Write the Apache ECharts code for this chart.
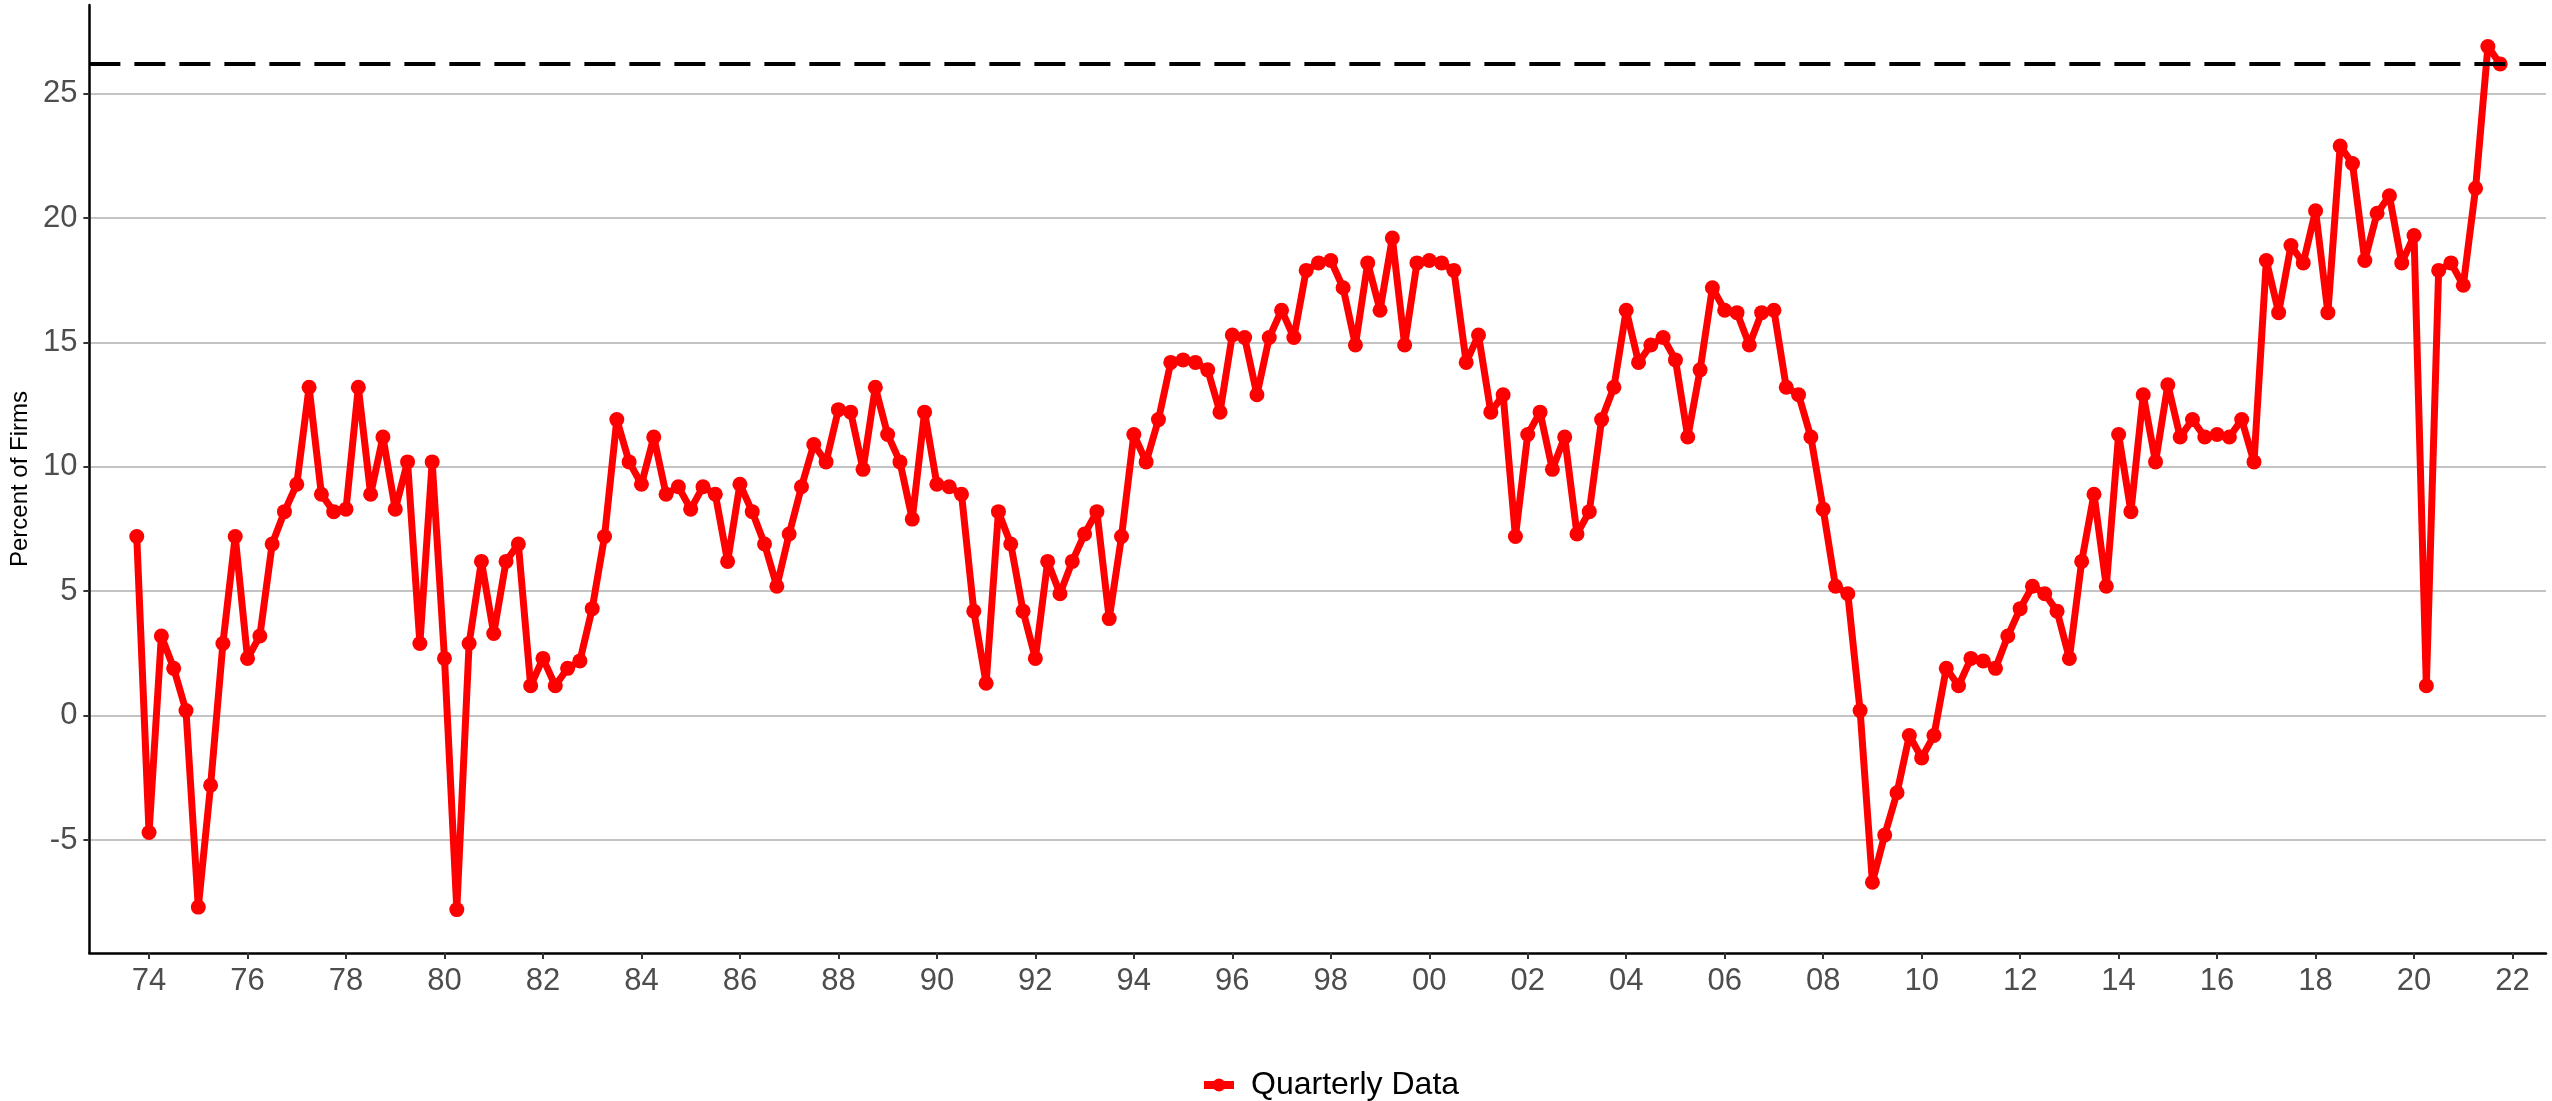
<!DOCTYPE html>
<html>
<head>
<meta charset="utf-8">
<script src="https://cdn.jsdelivr.net/npm/echarts@6/dist/echarts.min.js"></script>
<style>
html, body { margin: 0; padding: 0; background: #fff; }
#chart { width: 2552px; height: 1101px; }
</style>
</head>
<body>
<div id="chart"></div>
<script>
// quarterly series, first point is 1973 Q4
var firstQuarter = 1973.75;
var pctFirms = [
  7.2,
  -4.7, 3.2, 1.9, 0.2,      // 74
  -7.7, -2.8, 2.9, 7.2,     // 75
  2.3, 3.2, 6.9, 8.2,       // 76
  9.3, 13.2, 8.9, 8.2,      // 77
  8.3, 13.2, 8.9, 11.2,     // 78
  8.3, 10.2, 2.9, 10.2,     // 79
  2.3, -7.8, 2.9, 6.2,      // 80
  3.3, 6.2, 6.9, 1.2,       // 81
  2.3, 1.2, 1.9, 2.2,       // 82
  4.3, 7.2, 11.9, 10.2,     // 83
  9.3, 11.2, 8.9, 9.2,      // 84
  8.3, 9.2, 8.9, 6.2,       // 85
  9.3, 8.2, 6.9, 5.2,       // 86
  7.3, 9.2, 10.9, 10.2,     // 87
  12.3, 12.2, 9.9, 13.2,    // 88
  11.3, 10.2, 7.9, 12.2,    // 89
  9.3, 9.2, 8.9, 4.2,       // 90
  1.3, 8.2, 6.9, 4.2,       // 91
  2.3, 6.2, 4.9, 6.2,       // 92
  7.3, 8.2, 3.9, 7.2,       // 93
  11.3, 10.2, 11.9, 14.2,   // 94
  14.3, 14.2, 13.9, 12.2,   // 95
  15.3, 15.2, 12.9, 15.2,   // 96
  16.3, 15.2, 17.9, 18.2,   // 97
  18.3, 17.2, 14.9, 18.2,   // 98
  16.3, 19.2, 14.9, 18.2,   // 99
  18.3, 18.2, 17.9, 14.2,   // 00
  15.3, 12.2, 12.9, 7.2,    // 01
  11.3, 12.2, 9.9, 11.2,    // 02
  7.3, 8.2, 11.9, 13.2,     // 03
  16.3, 14.2, 14.9, 15.2,   // 04
  14.3, 11.2, 13.9, 17.2,   // 05
  16.3, 16.2, 14.9, 16.2,   // 06
  16.3, 13.2, 12.9, 11.2,   // 07
  8.3, 5.2, 4.9, 0.2,       // 08
  -6.7, -4.8, -3.1, -0.8,   // 09
  -1.7, -0.8, 1.9, 1.2,     // 10
  2.3, 2.2, 1.9, 3.2,       // 11
  4.3, 5.2, 4.9, 4.2,       // 12
  2.3, 6.2, 8.9, 5.2,       // 13
  11.3, 8.2, 12.9, 10.2,    // 14
  13.3, 11.2, 11.9, 11.2,   // 15
  11.3, 11.2, 11.9, 10.2,   // 16
  18.3, 16.2, 18.9, 18.2,   // 17
  20.3, 16.2, 22.9, 22.2,   // 18
  18.3, 20.2, 20.9, 18.2,   // 19
  19.3, 1.2, 17.9, 18.2,    // 20
  17.3, 21.2, 26.9, 26.2    // 21
];
var latestLevel = 26.2;
var tickYears = [1974, 1976, 1978, 1980, 1982, 1984, 1986, 1988, 1990, 1992, 1994, 1996,
  1998, 2000, 2002, 2004, 2006, 2008, 2010, 2012, 2014, 2016, 2018, 2020, 2022];
var yTicks = [-5, 0, 5, 10, 15, 20, 25];

var seriesData = pctFirms.map(function (v, i) { return [firstQuarter + i * 0.25, v]; });
var font = "'Liberation Sans', Arial, sans-serif";

var chart = echarts.init(document.getElementById('chart'));
chart.setOption({
  animation: false,
  grid: { left: 89, right: 6, top: 5, bottom: 148, containLabel: false },
  legend: {
    left: 1195,
    top: 1064,
    itemWidth: 30,
    itemHeight: 16,
    lineStyle: { width: 8 },
    textStyle: { fontFamily: font, fontSize: 32, color: '#000', padding: [0, 0, 0, 12] },
    data: ['Quarterly Data']
  },
  xAxis: {
    type: 'value',
    min: 1972.788,
    max: 2022.68,
    splitLine: { show: false },
    axisLine: { onZero: false, lineStyle: { color: '#000', width: 2.5 } },
    axisTick: { customValues: tickYears, length: 6, lineStyle: { color: '#333', width: 2 } },
    axisLabel: {
      customValues: tickYears,
      margin: 13,
      fontFamily: font,
      fontSize: 31,
      color: '#4D4D4D',
      formatter: function (v) { return String(Math.round(v) % 100).padStart(2, '0'); }
    }
  },
  yAxis: {
    type: 'value',
    min: -9.545,
    max: 28.57,
    name: 'Percent of Firms',
    nameLocation: 'middle',
    nameGap: 57,
    nameTextStyle: { fontFamily: font, fontSize: 24, color: '#000' },
    axisLine: { show: true, onZero: false, lineStyle: { color: '#000', width: 2.5 } },
    axisTick: { show: true, customValues: yTicks, length: 6, lineStyle: { color: '#333', width: 2 } },
    axisLabel: {
      customValues: yTicks,
      margin: 12,
      fontFamily: font,
      fontSize: 31,
      color: '#4D4D4D'
    },
    splitLine: { show: true, lineStyle: { color: '#C4C4C4', width: 2 } }
  },
  series: [{
    name: 'Quarterly Data',
    type: 'line',
    data: seriesData,
    symbol: 'circle',
    symbolSize: 15,
    itemStyle: { color: '#FF0000' },
    lineStyle: { color: '#FF0000', width: 7 },
    markLine: {
      silent: true,
      symbol: 'none',
      label: { show: false },
      lineStyle: { color: '#000', width: 4, type: [31, 14] },
      data: [{ yAxis: latestLevel }]
    }
  }]
});
</script>
</body>
</html>
